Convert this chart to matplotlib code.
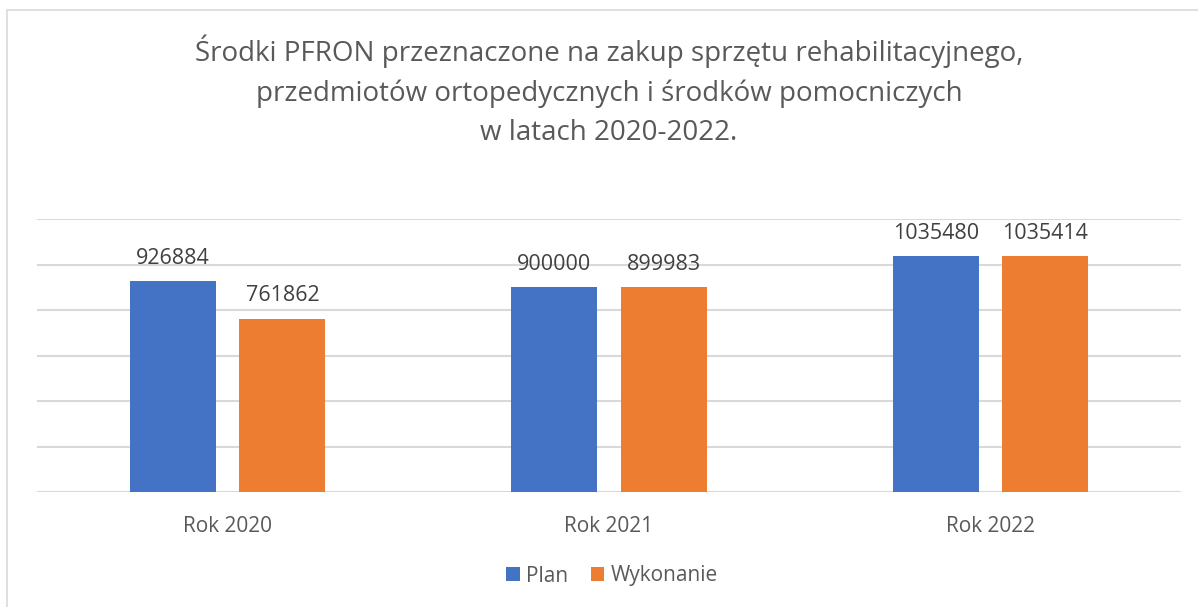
import numpy as np
import matplotlib.pyplot as plt
from matplotlib.patches import Rectangle

categories = ["Rok 2020", "Rok 2021", "Rok 2022"]
plan = [926884, 900000, 1035480]
wykonanie = [761862, 899983, 1035414]

title = ("Środki PFRON przeznaczone na zakup sprzętu rehabilitacyjnego,\n"
         "przedmiotów ortopedycznych i środków pomocniczych\n"
         "w latach 2020-2022.")

plt.rcParams['font.family'] = ['Open Sans', 'DejaVu Sans']

W, H = 1198, 607
fig = plt.figure(figsize=(W / 100, H / 100), dpi=100)

# chart frame border
fig.patches.append(Rectangle((7 / W, -0.05), 1.2, 1 - 10 / H + 0.05,
                             transform=fig.transFigure, fill=False,
                             edgecolor="#d9d9d9", linewidth=1.2))

ax = fig.add_axes([37 / W, 1 - 492 / H, (1181 - 37) / W, (492 - 219) / H])

x = np.arange(len(categories))
w = 0.226
off = 0.1435
b1 = ax.bar(x - off, plan, w, color="#4472c4", label="Plan", zorder=3)
b2 = ax.bar(x + off, wykonanie, w, color="#ed7d31", label="Wykonanie", zorder=3)

for bars in (b1, b2):
    for r in bars:
        ax.annotate(f"{int(r.get_height())}", (r.get_x() + r.get_width() / 2, r.get_height()),
                    xytext=(0, 9), textcoords="offset points", ha="center", va="bottom",
                    fontsize=15.5, color="#404040")

ax.set_xlim(-0.5, 2.5)
ax.set_ylim(0, 1200000)
ax.set_yticks(np.arange(0, 1200001, 200000))
ax.yaxis.grid(True, color="#d9d9d9", linewidth=1.5, zorder=0)
ax.tick_params(axis="y", left=False, labelleft=False)
ax.tick_params(axis="x", length=0, pad=17, labelsize=15, labelcolor="#595959")
ax.set_xticks(x)
ax.set_xticklabels(categories)
for s in ax.spines.values():
    s.set_visible(False)

fig.text(609 / W, 1 - 34 / H, title, ha="center", va="top", fontsize=20,
         color="#595959", linespacing=1.55)

fig.legend(loc="center", bbox_to_anchor=(612 / W, 1 - 576 / H), ncol=2, frameon=False,
           fontsize=15, labelcolor="#595959", handlelength=0.65, handleheight=0.65,
           handletextpad=0.3, columnspacing=1.1)

fig.savefig("out.png", dpi=100)
